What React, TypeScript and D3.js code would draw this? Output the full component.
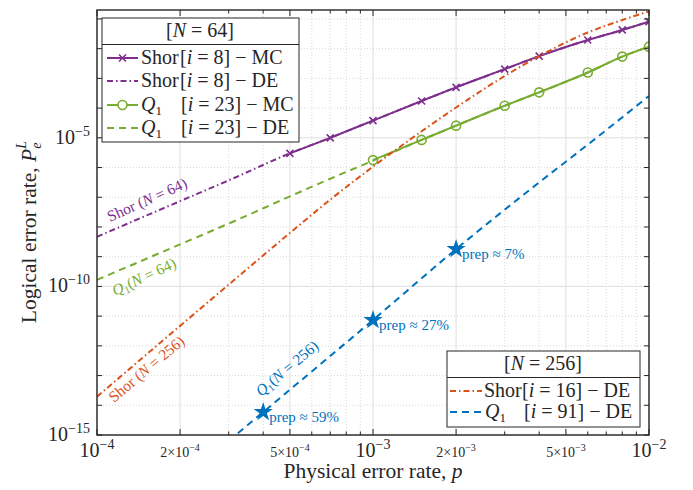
import React from "react";
import * as d3 from "d3";

const W = 693;
const H = 490;
const M = { left: 97, right: 649, top: 10, bottom: 435 };

// ---- data ----
const pShor64MC = [5e-4, 7e-4, 1e-3, 1.5e-3, 2e-3, 3e-3, 4e-3, 6e-3, 8e-3, 1e-2];
const shor64MC = [3.0e-6, 1.0e-5, 3.8e-5, 1.74e-4, 5.0e-4, 2.04e-3, 5.6e-3, 1.95e-2, 4.27e-2, 8.1e-2];

const pShor64DE = [1e-4, 2e-4, 3e-4, 5e-4, 7e-4, 1e-3, 1.5e-3, 2e-3, 3e-3, 4e-3, 6e-3, 8e-3, 1e-2];
const shor64DE = [4.7e-9, 7.4e-8, 3.7e-7, 3.0e-6, 1.0e-5, 3.8e-5, 1.74e-4, 5.0e-4, 2.04e-3, 5.6e-3, 1.95e-2, 4.27e-2, 8.1e-2];

const pQ64MC = [1e-3, 1.5e-3, 2e-3, 3e-3, 4e-3, 6e-3, 8e-3, 1e-2];
const q64MC = [1.78e-6, 8.5e-6, 2.57e-5, 1.2e-4, 3.39e-4, 1.58e-3, 5.4e-3, 1.17e-2];

const pQ64DE = [1e-4, 2e-4, 3e-4, 5e-4, 7e-4, 1e-3, 1.5e-3, 2e-3, 3e-3, 4e-3, 6e-3, 8e-3, 1e-2];
const q64DE = [1.66e-10, 2.6e-9, 1.3e-8, 1.07e-7, 4.2e-7, 1.7e-6, 8.5e-6, 2.57e-5, 1.2e-4, 3.39e-4, 1.58e-3, 5.4e-3, 1.17e-2];

const pShor256DE = [1e-4, 2e-4, 3e-4, 5e-4, 7e-4, 1e-3, 1.5e-3, 2e-3, 3e-3, 4e-3, 6e-3, 8e-3, 1e-2];
const shor256DE = [1.95e-14, 4.7e-12, 1.15e-10, 6.3e-9, 8.3e-8, 1.07e-6, 1.66e-5, 1.05e-4, 1.2e-3, 5.6e-3, 3.5e-2, 0.092, 0.18];

const pQ256DE = [3e-4, 4e-4, 1e-3, 2e-3, 4e-3, 6e-3, 1e-2];
const q256DE = [6.3e-16, 5.9e-15, 7.4e-12, 1.8e-9, 3.16e-7, 5.9e-6, 2.57e-4];

const pStars = [4e-4, 1e-3, 2e-3];
const starVals = [5.9e-15, 7.4e-12, 1.8e-9];
const starLabels = ["prep \u2248 59%", "prep \u2248 27%", "prep \u2248 7%"];

const xMajor = [1e-4, 2e-4, 5e-4, 1e-3, 2e-3, 5e-3, 1e-2];
const xMinor = [3e-4, 4e-4, 6e-4, 7e-4, 8e-4, 9e-4, 3e-3, 4e-3, 6e-3, 7e-3, 8e-3, 9e-3];
const xBigLabels = [
  { v: 1e-4, e: "\u22124" },
  { v: 1e-3, e: "\u22123" },
  { v: 1e-2, e: "\u22122" },
];
const xSmallLabels = [
  { v: 2e-4, m: "2", e: "\u22124" },
  { v: 5e-4, m: "5", e: "\u22124" },
  { v: 2e-3, m: "2", e: "\u22123" },
  { v: 5e-3, m: "5", e: "\u22123" },
];
const yDecades = d3.range(-15, 0).map((k) => Math.pow(10, k));
const yLabelExps = [-15, -10, -5];

const C = {
  purple: "#7E2F8E",
  green: "#77AC30",
  orange: "#D95319",
  blue: "#0072BD",
};

const FONT = "'Liberation Serif', 'Times New Roman', serif";

export default function App() {
  const x = d3.scaleLog().domain([1e-4, 1e-2]).range([M.left, M.right]);
  const y = d3.scaleLog().domain([1e-15, 0.2]).range([M.bottom, M.top]);

  const mk = (ps: number[], vs: number[]) =>
    d3
      .line<number>()
      .x((_, i) => x(ps[i]))
      .y((_, i) => y(vs[i]))
      .curve(d3.curveMonotoneX)(vs as any) || "";

  const yMajorSet = new Set(yLabelExps);
  const star = d3.symbol().type(d3.symbolStar).size(115)() || "";

  const dashDot = "6,3,1.5,3";
  const dashed = "7,5";

  const xMarker = (cx: number, cy: number, k: number, col: string) => (
    <g key={k} stroke={col} strokeWidth={1.6}>
      <line x1={cx - 3.5} y1={cy - 3.5} x2={cx + 3.5} y2={cy + 3.5} />
      <line x1={cx - 3.5} y1={cy + 3.5} x2={cx + 3.5} y2={cy - 3.5} />
    </g>
  );

  return (
    <svg width={W} height={H} style={{ display: "block", position: "absolute", left: 0, top: 0 }} fontFamily={FONT}>
      <defs>
        <clipPath id="plotclip">
          <rect x={M.left} y={M.top} width={M.right - M.left} height={M.bottom - M.top} />
        </clipPath>
      </defs>
      <rect x={0} y={0} width={W} height={H} fill="#fff" />

      {/* grid */}
      <g>
        {xMinor.map((v, i) => (
          <line key={"xm" + i} x1={x(v)} x2={x(v)} y1={M.top} y2={M.bottom} stroke="#cfcfcf" strokeWidth={0.8} strokeDasharray="1,2" />
        ))}
        {yDecades.map((v, i) => {
          const e = Math.round(Math.log10(v));
          if (yMajorSet.has(e)) return null;
          return <line key={"ym" + i} x1={M.left} x2={M.right} y1={y(v)} y2={y(v)} stroke="#cfcfcf" strokeWidth={0.8} strokeDasharray="1,2" />;
        })}
        {xMajor.map((v, i) => (
          <line key={"xM" + i} x1={x(v)} x2={x(v)} y1={M.top} y2={M.bottom} stroke="#dedede" strokeWidth={1} />
        ))}
        {yLabelExps.map((e, i) => (
          <line key={"yM" + i} x1={M.left} x2={M.right} y1={y(Math.pow(10, e))} y2={y(Math.pow(10, e))} stroke="#dedede" strokeWidth={1} />
        ))}
      </g>

      {/* series */}
      <g clipPath="url(#plotclip)" fill="none">
        <path d={mk(pShor64MC, shor64MC)} stroke={C.purple} strokeWidth={2} />
        {pShor64MC.map((p, i) => xMarker(x(p), y(shor64MC[i]), i, C.purple))}
        <path d={mk(pShor64DE, shor64DE)} stroke={C.purple} strokeWidth={2} strokeDasharray={dashDot} />
        <path d={mk(pQ64MC, q64MC)} stroke={C.green} strokeWidth={2} />
        {pQ64MC.map((p, i) => (
          <circle key={"c" + i} cx={x(p)} cy={y(q64MC[i])} r={4.5} stroke={C.green} strokeWidth={1.6} fill="none" />
        ))}
        <path d={mk(pQ64DE, q64DE)} stroke={C.green} strokeWidth={2} strokeDasharray={dashed} />
        <path d={mk(pShor256DE, shor256DE)} stroke={C.orange} strokeWidth={2} strokeDasharray={dashDot} />
        <path d={mk(pQ256DE, q256DE)} stroke={C.blue} strokeWidth={2} strokeDasharray={dashed} />
        {pStars.map((p, i) => (
          <path key={"s" + i} d={star} transform={`translate(${x(p)},${y(starVals[i])})`} fill={C.blue} stroke="none" />
        ))}
      </g>

      {/* star labels */}
      {pStars.map((p, i) => (
        <text key={"sl" + i} x={x(p) + 6} y={y(starVals[i]) + 10} fontSize={15} fill={C.blue}>
          {starLabels[i]}
        </text>
      ))}

      {/* curve annotations */}
      <text transform="translate(110,222) rotate(-24)" fontSize={15.5} fill={C.purple}>
        Shor (<tspan fontStyle="italic">N</tspan> = 64)
      </text>
      <text transform="translate(115,296) rotate(-25)" fontSize={15.5} fill={C.green}>
        <tspan fontStyle="italic">Q</tspan>
        <tspan fontSize={10} dy={3}>1</tspan>
        <tspan dy={-3}>(</tspan>
        <tspan fontStyle="italic">N</tspan> = 64)
      </text>
      <text transform="translate(114,403) rotate(-40)" fontSize={15.5} fill={C.orange}>
        Shor (<tspan fontStyle="italic">N</tspan> = 256)
      </text>
      <text transform="translate(261,397) rotate(-40)" fontSize={15.5} fill={C.blue}>
        <tspan fontStyle="italic">Q</tspan>
        <tspan fontSize={10} dy={3}>1</tspan>
        <tspan dy={-3}>(</tspan>
        <tspan fontStyle="italic">N</tspan> = 256)
      </text>

      {/* axes box & ticks */}
      <g stroke="#262626" strokeWidth={1}>
        {xMajor.map((v, i) => (
          <g key={"xt" + i}>
            <line x1={x(v)} x2={x(v)} y1={M.bottom} y2={M.bottom - 6} />
            <line x1={x(v)} x2={x(v)} y1={M.top} y2={M.top + 6} />
          </g>
        ))}
        {xMinor.map((v, i) => (
          <g key={"xmt" + i}>
            <line x1={x(v)} x2={x(v)} y1={M.bottom} y2={M.bottom - 3.5} />
            <line x1={x(v)} x2={x(v)} y1={M.top} y2={M.top + 3.5} />
          </g>
        ))}
        {yDecades.map((v, i) => (
          <g key={"yt" + i}>
            <line x1={M.left} x2={M.left + 5} y1={y(v)} y2={y(v)} />
            <line x1={M.right} x2={M.right - 5} y1={y(v)} y2={y(v)} />
          </g>
        ))}
      </g>
      <rect x={M.left} y={M.top} width={M.right - M.left} height={M.bottom - M.top} fill="none" stroke="#262626" strokeWidth={1.4} />

      {/* tick labels */}
      <g fill="#262626">
        {xBigLabels.map((t, i) => (
          <text key={"xb" + i} x={x(t.v)} y={457} fontSize={20} textAnchor="middle">
            10<tspan fontSize={14} dy={-8}>{t.e}</tspan>
          </text>
        ))}
        {xSmallLabels.map((t, i) => (
          <text key={"xs" + i} x={x(t.v)} y={457} fontSize={14} textAnchor="middle">
            {t.m}×10<tspan fontSize={10} dy={-6}>{t.e}</tspan>
          </text>
        ))}
        {yLabelExps.map((e, i) => (
          <text key={"yl" + i} x={90} y={y(Math.pow(10, e)) + 6} fontSize={20} textAnchor="end">
            10<tspan fontSize={14} dy={-8}>{"\u2212" + Math.abs(e)}</tspan>
          </text>
        ))}
      </g>

      {/* axis labels */}
      <text x={(M.left + M.right) / 2} y={478} fontSize={21.5} textAnchor="middle" fill="#262626">
        Physical error rate, <tspan fontStyle="italic">p</tspan>
      </text>
      <text transform="translate(36,232) rotate(-90)" fontSize={21.5} textAnchor="middle" fill="#262626">
        Logical error rate, <tspan fontStyle="italic">P</tspan>
        <tspan fontStyle="italic" fontSize={14} dy={5}>e</tspan>
        <tspan fontStyle="italic" fontSize={14} dx={-6} dy={-15}>L</tspan>
      </text>

      {/* legend 1 */}
      <g>
        <rect x={102} y={18} width={197} height={124} fill="#fff" stroke="#262626" strokeWidth={1} />
        <line x1={102} x2={299} y1={44.5} y2={44.5} stroke="#262626" strokeWidth={1} />
        <text x={200} y={37} fontSize={20} textAnchor="middle" fill="#262626">
          [<tspan fontStyle="italic">N</tspan> = 64]
        </text>
        {/* row 1 */}
        <line x1={107} x2={138} y1={58} y2={58} stroke={C.purple} strokeWidth={2} />
        {xMarker(122.5, 58, 100, C.purple)}
        <text x={141} y={64} fontSize={20} fill="#262626">
          Shor<tspan x={180}>[</tspan><tspan fontStyle="italic">i</tspan> = 8] − MC
        </text>
        {/* row 2 */}
        <line x1={107} x2={138} y1={81} y2={81} stroke={C.purple} strokeWidth={2} strokeDasharray={dashDot} />
        <text x={141} y={87} fontSize={20} fill="#262626">
          Shor<tspan x={180}>[</tspan><tspan fontStyle="italic">i</tspan> = 8] − DE
        </text>
        {/* row 3 */}
        <line x1={107} x2={138} y1={105} y2={105} stroke={C.green} strokeWidth={2} />
        <circle cx={122.5} cy={105} r={4.5} stroke={C.green} strokeWidth={1.6} fill="#fff" />
        <text x={141} y={111} fontSize={20} fill="#262626">
          <tspan fontStyle="italic">Q</tspan>
          <tspan fontSize={13} dy={4}>1</tspan>
          <tspan x={181} dy={-4}>[</tspan><tspan fontStyle="italic">i</tspan> = 23] − MC
        </text>
        {/* row 4 */}
        <line x1={107} x2={138} y1={128} y2={128} stroke={C.green} strokeWidth={2} strokeDasharray={dashed} />
        <text x={141} y={134} fontSize={20} fill="#262626">
          <tspan fontStyle="italic">Q</tspan>
          <tspan fontSize={13} dy={4}>1</tspan>
          <tspan x={181} dy={-4}>[</tspan><tspan fontStyle="italic">i</tspan> = 23] − DE
        </text>
      </g>

      {/* legend 2 */}
      <g>
        <rect x={447} y={351} width={193} height={76} fill="#fff" stroke="#262626" strokeWidth={1} />
        <line x1={447} x2={640} y1={377.5} y2={377.5} stroke="#262626" strokeWidth={1} />
        <text x={543} y={370} fontSize={20} textAnchor="middle" fill="#262626">
          [<tspan fontStyle="italic">N</tspan> = 256]
        </text>
        <line x1={450} x2={482} y1={391} y2={391} stroke={C.orange} strokeWidth={2} strokeDasharray={dashDot} />
        <text x={484} y={397} fontSize={20} fill="#262626">
          Shor<tspan x={522}>[</tspan><tspan fontStyle="italic">i</tspan> = 16] − DE
        </text>
        <line x1={450} x2={482} y1={412} y2={412} stroke={C.blue} strokeWidth={2} strokeDasharray={dashed} />
        <text x={485} y={418} fontSize={20} fill="#262626">
          <tspan fontStyle="italic">Q</tspan>
          <tspan fontSize={13} dy={4}>1</tspan>
          <tspan x={524} dy={-4}>[</tspan><tspan fontStyle="italic">i</tspan> = 91] − DE
        </text>
      </g>
    </svg>
  );
}
